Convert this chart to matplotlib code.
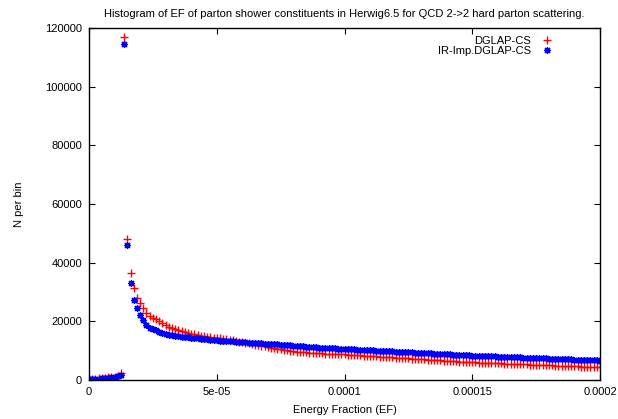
import numpy as np
import matplotlib
matplotlib.use("Agg")
import matplotlib.pyplot as plt

plt.rcParams['font.family'] = ['Liberation Sans', 'DejaVu Sans']

title = "Histogram of EF of parton shower constituents in Herwig6.5 for QCD 2->2 hard parton scattering."
xlabel = "Energy Fraction (EF)"
ylabel = "N per bin"
series_names = ["DGLAP-CS", "IR-Imp.DGLAP-CS"]

bin_width = 1.25e-6

dglap_cs = [
    300, 350, 430, 520, 640, 740, 860, 990, 1150, 1400, 2400,
    117000, 48000, 36500, 31300, 27800, 26100, 24400, 22900, 21800, 21200,
    20700, 20000, 19400, 18800, 18200, 17700, 17300, 16900, 16600, 16300,
    16000, 15800, 15550, 15350, 15150, 14950, 14800, 14600, 14450, 14300,
    14150, 14000, 13850, 13650, 13500, 13300, 13100, 12900, 12700, 12500,
    12250, 12050, 11850, 11650, 11450, 11250, 11050, 10850, 10600, 10400,
    10250, 10100, 9950, 9830, 9700, 9620, 9500, 9400, 9330, 9220,
    9150, 9080, 9050, 8980, 8950, 8900, 8850, 8800, 8760, 8700,
    8630, 8570, 8500, 8420, 8360, 8310, 8230, 8160, 8100, 8040,
    7970, 7890, 7830, 7780, 7700, 7620, 7570, 7510, 7430, 7360,
    7300, 7240, 7170, 7090, 7030, 6980, 6900, 6820, 6770, 6710,
    6630, 6560, 6500, 6440, 6370, 6290, 6230, 6180, 6100, 6030,
    5990, 5940, 5900, 5870, 5820, 5770, 5740, 5710, 5650, 5600,
    5570, 5540, 5490, 5440, 5410, 5370, 5320, 5270, 5240, 5210,
    5150, 5100, 5070, 5040, 4990, 4940, 4910, 4870, 4820, 4770,
    4740, 4710, 4650, 4600, 4570, 4540, 4490, 4430, 4400, 4370,
]

ir_imp_dglap_cs = [
    220, 280, 370, 470, 580, 680, 790, 920, 1080, 1250, 1650,
    114500, 46000, 33000, 27400, 24400, 22100, 20400, 18700, 17800, 17300,
    16900, 16400, 16000, 15700, 15400, 15200, 15000, 14850, 14700, 14600,
    14500, 14400, 14300, 14150, 14050, 13950, 13850, 13750, 13650, 13550,
    13450, 13380, 13300, 13220, 13150, 13080, 13000, 12920, 12850, 12780,
    12720, 12650, 12580, 12500, 12440, 12350, 12300, 12200, 12150, 12050,
    11950, 11900, 11800, 11700, 11650, 11550, 11450, 11350, 11300, 11200,
    11100, 11050, 10950, 10900, 10850, 10800, 10750, 10700, 10650, 10600,
    10550, 10480, 10430, 10370, 10310, 10260, 10200, 10140, 10090, 10030,
    9970, 9920, 9860, 9800, 9740, 9690, 9630, 9570, 9520, 9460,
    9400, 9340, 9290, 9230, 9170, 9120, 9060, 9000, 8950, 8890,
    8830, 8770, 8720, 8660, 8600, 8550, 8490, 8430, 8380, 8320,
    8280, 8240, 8200, 8150, 8110, 8070, 8030, 7990, 7940, 7900,
    7860, 7820, 7780, 7730, 7690, 7650, 7610, 7570, 7520, 7480,
    7440, 7400, 7350, 7310, 7270, 7230, 7190, 7140, 7100, 7060,
    7020, 6980, 6930, 6890, 6850, 6810, 6770, 6720, 6680, 6640,
]

xticks = [0, 5e-5, 1e-4, 1.5e-4, 2e-4]
xtick_labels = ["0", "5e-05", "0.0001", "0.00015", "0.0002"]
yticks = [0, 20000, 40000, 60000, 80000, 100000, 120000]
ytick_labels = ["0", "20000", "40000", "60000", "80000", "100000", "120000"]

x = np.arange(len(dglap_cs)) * bin_width

fig = plt.figure(figsize=(6.18, 4.19), dpi=100)
ax = fig.add_axes([89/618, 39/419, 511/618, 352/419])

ax.plot(x, dglap_cs, linestyle='none', marker='+', color='#ff0000',
        markersize=5.5, markeredgewidth=1.0, label=series_names[0])
ax.plot(x, ir_imp_dglap_cs, linestyle='none', marker=(8, 2, 0), color='#0000ff',
        markersize=5, markeredgewidth=0.9, label=series_names[1])

ax.set_xlim(0, 2e-4)
ax.set_ylim(0, 120000)
ax.set_xticks(xticks)
ax.set_xticklabels(xtick_labels)
ax.set_yticks(yticks)
ax.set_yticklabels(ytick_labels)
ax.tick_params(direction='in', top=True, right=True, length=4, width=0.8,
               labelsize=8, pad=5)
for s in ax.spines.values():
    s.set_linewidth(1.0)

ax.set_title(title, fontsize=8, pad=8)
ax.set_xlabel(xlabel, fontsize=8, labelpad=6)
ax.set_ylabel(ylabel, fontsize=8, labelpad=15)

leg = ax.legend(loc='upper right', frameon=False, markerfirst=False, fontsize=8,
                handlelength=1.2, handletextpad=0.9, labelspacing=0.05,
                borderaxespad=0.3, bbox_to_anchor=(0.925, 1.0))

fig.savefig("out.png", dpi=100)
